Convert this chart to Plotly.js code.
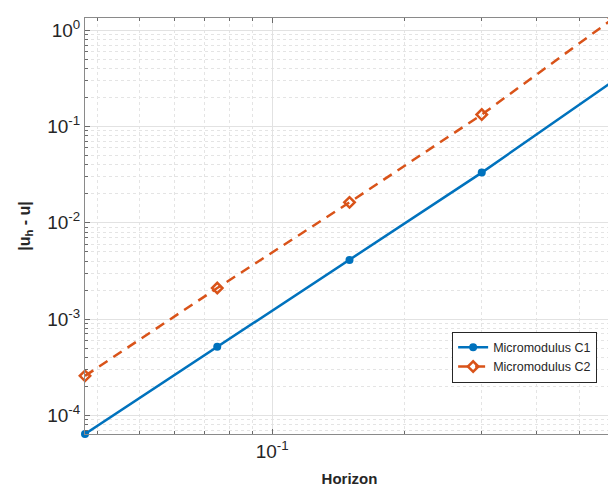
<!DOCTYPE html>
<html>
<head>
<meta charset="utf-8">
<script src="https://cdn.plot.ly/plotly-3.0.1.min.js"></script>
<style>
html,body{margin:0;padding:0;overflow:hidden;background:#fff;width:608px;height:492px;}
#chart{width:640px;height:492px;}
</style>
</head>
<body>
<div id="chart"></div>
<script>
const horizon = [0.0375, 0.075, 0.15, 0.3, 0.6];
const errC1 = [6.4e-5, 5.15e-4, 4.1e-3, 3.32e-2, 0.30];
const errC2 = [2.57e-4, 2.1e-3, 1.63e-2, 0.133, 1.34];
const seriesNames = ['Micromodulus C1', 'Micromodulus C2'];
const yTickVals = [1e-4, 1e-3, 1e-2, 1e-1, 1];
const yTickText = ['10<sup>-4</sup>', '10<sup>-3</sup>', '10<sup>-2</sup>', '10<sup>-1</sup>', '10<sup>0</sup>'];
const xTickVals = [0.1];
const xTickText = ['10<sup>-1</sup>'];

const blue = '#0072BD', orange = '#D95319';
const font = 'Liberation Sans, Arial, Helvetica, sans-serif';

const traces = [
  {x: horizon, y: errC1, name: seriesNames[0], mode: 'lines+markers', cliponaxis: false,
   line: {color: blue, width: 2.5}, marker: {symbol: 'circle', size: 8, color: blue}},
  {x: horizon, y: errC2, name: seriesNames[1], mode: 'lines+markers', cliponaxis: false,
   line: {color: orange, width: 2.5, dash: '10px,7px'},
   marker: {symbol: 'diamond-open', size: 8, color: orange, line: {width: 2.5, color: orange}}}
];

const axCommon = {
  type: 'log', showline: true, linecolor: '#8a8a8a', linewidth: 1, mirror: 'ticks',
  ticks: 'inside', ticklen: 5, tickcolor: '#6a6a6a', tickmode: 'array',
  showgrid: true, gridcolor: '#e2e2e2', gridwidth: 1,
  zeroline: false, tickfont: {family: font, size: 19, color: '#262626'},
  minor: {dtick: 'D1', ticks: 'inside', ticklen: 3, tickcolor: '#6a6a6a',
          showgrid: true, gridcolor: '#e4e4e4', griddash: 'dot', gridwidth: 1}
};

const layout = {
  width: 640, height: 492,
  margin: {l: 85, r: 26, t: 18, b: 58},
  paper_bgcolor: '#fff', plot_bgcolor: '#fff',
  showlegend: true,
  legend: {x: 0.694, y: 0.246, xanchor: 'left', yanchor: 'top',
           bgcolor: '#fff', bordercolor: '#262626', borderwidth: 1,
           font: {family: font, size: 12.5, color: '#262626'}, tracegroupgap: 0,
           itemwidth: 30},
  xaxis: Object.assign({}, axCommon, {
    range: [Math.log10(0.0375), Math.log10(0.6)],
    tickvals: xTickVals, ticktext: xTickText,
    title: {text: '<b>Horizon</b>', font: {family: font, size: 15, color: '#262626'}, standoff: 12}
  }),
  yaxis: Object.assign({}, axCommon, {
    range: [Math.log10(6.4e-5), Math.log10(1.34)],
    tickvals: yTickVals, ticktext: yTickText,
    title: {text: '<b>|u<sub>h</sub> - u|</b>', font: {family: font, size: 16, color: '#262626'}, standoff: 12}
  })
};

Plotly.newPlot('chart', traces, layout, {displayModeBar: false, staticPlot: true});
</script>
</body>
</html>
